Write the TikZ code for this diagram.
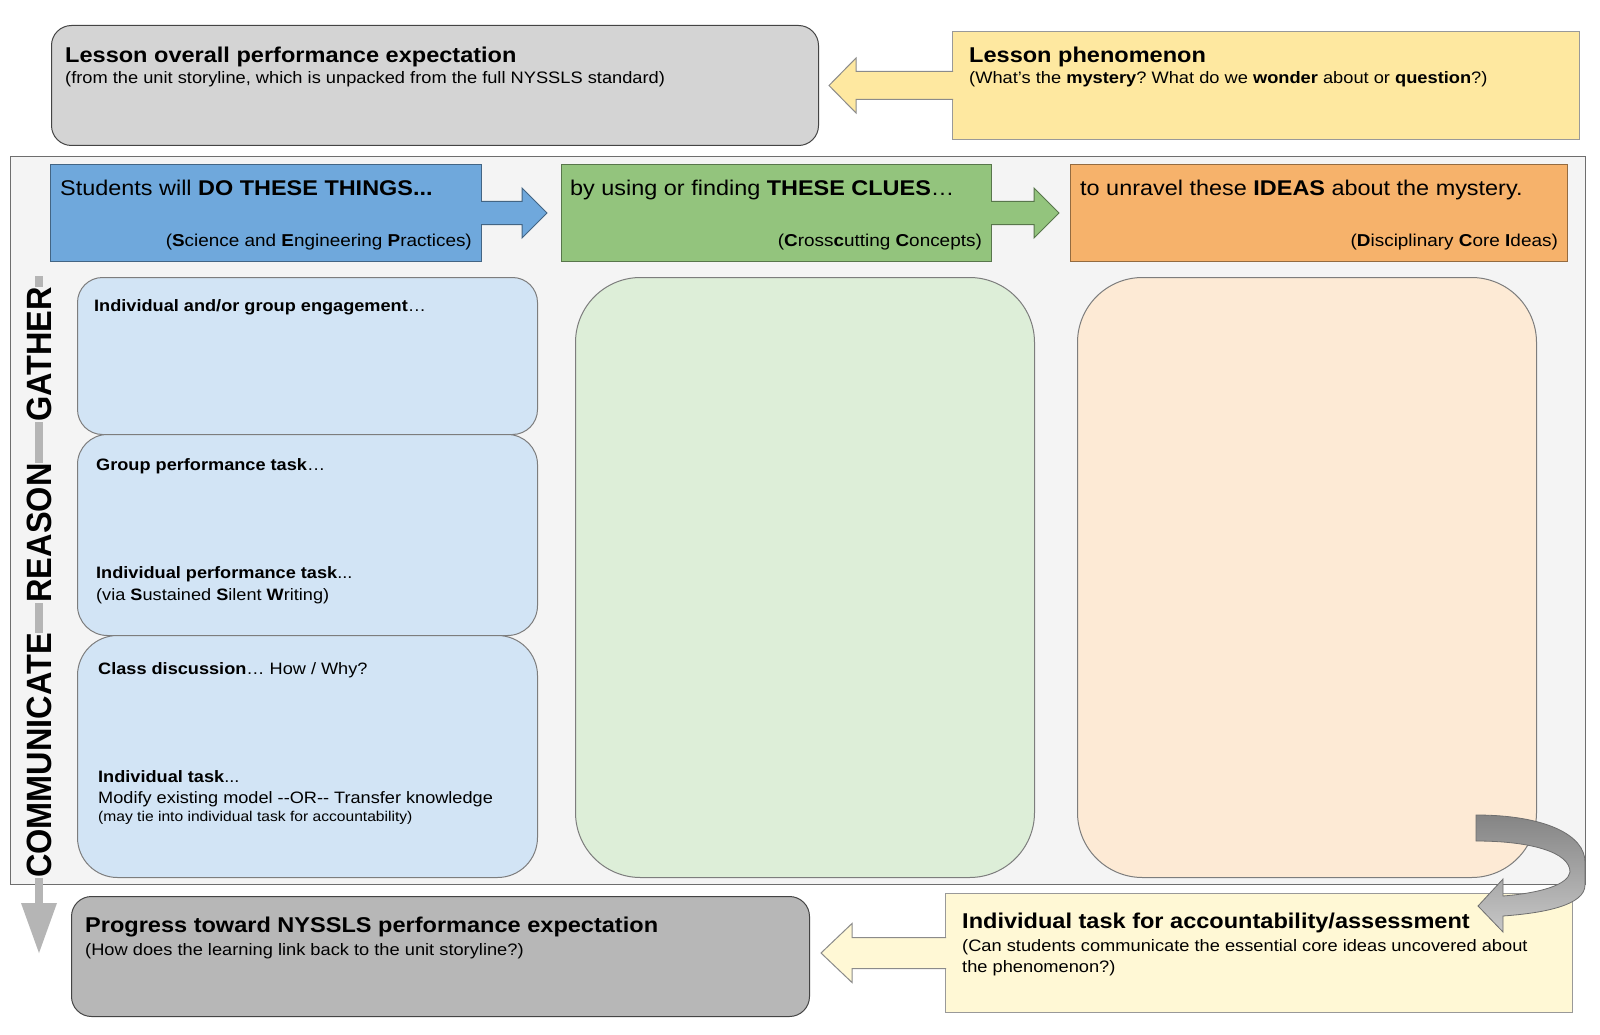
\documentclass[tikz,border=0pt]{standalone}
\usepackage{fontspec}
\usepackage{graphicx}
\setmainfont{Liberation Sans}[FakeStretch=1.1]
\newfontfamily\vfont{Liberation Sans}
\usetikzlibrary{calc}
\frenchspacing
\definecolor{topgray}{HTML}{D4D4D4}
\definecolor{botgray}{HTML}{B7B7B7}
\definecolor{framebg}{HTML}{F4F4F4}
\definecolor{phenyellow}{HTML}{FEE8A0}
\definecolor{accyellow}{HTML}{FFF8D5}
\definecolor{hblue}{HTML}{6FA8DC}
\definecolor{hgreen}{HTML}{93C47D}
\definecolor{horange}{HTML}{F6B26B}
\definecolor{cblue}{HTML}{D2E4F5}
\definecolor{cgreen}{HTML}{DDEED8}
\definecolor{corange}{HTML}{FDEAD5}
\definecolor{vgray}{HTML}{B5B5B5}
\definecolor{edge}{HTML}{6E6E6E}
\definecolor{darkedge}{HTML}{444444}
\begin{document}
\begin{tikzpicture}[x=1pt,y=-1pt,
  box/.style={anchor=north west, inner sep=0pt, line width=1pt},
  txt/.style={anchor=base west, inner sep=0pt},
  rtxt/.style={anchor=base east, inner sep=0pt},
  ttl/.style={txt, font=\fontsize{21.4}{25}\selectfont\bfseries},
  subt/.style={txt, font=\fontsize{16.6}{20}\selectfont},
  hd/.style={txt, font=\fontsize{21.3}{25}\selectfont},
  hsub/.style={rtxt, font=\fontsize{17.2}{20}\selectfont},
  ct/.style={txt, font=\fontsize{16.5}{20}\selectfont},
  sm/.style={txt, font=\fontsize{14.2}{17}\selectfont},
  vt/.style={anchor=base, rotate=90, inner xsep=0pt, inner ysep=1pt, fill=framebg, font=\vfont\fontsize{32.5}{33}\selectfont\bfseries},
  blockarrow/.style={line width=1pt, line join=miter}
]
\fill[white] (0,0) rectangle (1600,1035);
\useasboundingbox (0,0) rectangle (1600,1035);

% top row
\node[box, minimum width=767pt, minimum height=120pt, rounded corners=20pt, fill=topgray, draw=darkedge] (pe) at (51,25) {};
\node[box, minimum width=627pt, minimum height=108pt, fill=phenyellow, draw=edge!70] (phen) at (952,31) {};
\node[ttl] (peT) at (65,62.5) {Lesson overall performance expectation};
\node[subt] (peS) at (65,84) {(from the unit storyline, which is unpacked from the full NYSSLS standard)};
\node[ttl] (phT) at (969,62.5) {Lesson phenomenon};
\node[subt] (phS) at (969,84) {(What’s the \textbf{mystery}? What do we \textbf{wonder} about or \textbf{question}?)};
\filldraw[blockarrow, fill=phenyellow, draw=edge!80]
  ($(phen.west)+(1,-14)$) -- ($(phen.west)+(-96,-14)$) -- ($(phen.west)+(-96,-27.5)$) -- ($(phen.west)+(-123,0)$)
  -- ($(phen.west)+(-96,27.5)$) -- ($(phen.west)+(-96,14)$) -- ($(phen.west)+(1,14)$);

% frame
\node[box, minimum width=1575pt, minimum height=728pt, fill=framebg, draw=edge] (frame) at (10,156) {};

% header boxes
\node[box, minimum width=431pt, minimum height=97pt, fill=hblue, draw=hblue!60!black] (sep) at (50,164) {};
\node[box, minimum width=430pt, minimum height=97pt, fill=hgreen, draw=hgreen!60!black] (ccc) at (561,164) {};
\node[box, minimum width=497pt, minimum height=97pt, fill=horange, draw=horange!60!black] (dci) at (1070,164) {};
\filldraw[blockarrow, fill=hblue, draw=hblue!60!black]
  ($(sep.east)+(-1,-11.5)$) -- ($(sep.east)+(40,-11.5)$) -- ($(sep.east)+(40,-25)$) -- ($(sep.east)+(65,0)$)
  -- ($(sep.east)+(40,25)$) -- ($(sep.east)+(40,11.5)$) -- ($(sep.east)+(-1,11.5)$);
\filldraw[blockarrow, fill=hgreen, draw=hgreen!60!black]
  ($(ccc.east)+(-1,-11.5)$) -- ($(ccc.east)+(42,-11.5)$) -- ($(ccc.east)+(42,-25)$) -- ($(ccc.east)+(67,0)$)
  -- ($(ccc.east)+(42,25)$) -- ($(ccc.east)+(42,11.5)$) -- ($(ccc.east)+(-1,11.5)$);
\node[hd] (sepT) at (60,196) {Students will \textbf{DO THESE THINGS...}};
\node[hsub] (sepS) at (472,246) {(\textbf{S}cience and \textbf{E}ngineering \textbf{P}ractices)};
\node[hd] (cccT) at (570,196) {by using or finding \textbf{THESE CLUES}…};
\node[hsub] (cccS) at (982,246) {(\textbf{C}ross\textbf{c}utting \textbf{C}oncepts)};
\node[hd] (dciT) at (1080,196) {to unravel these \textbf{IDEAS} about the mystery.};
\node[hsub] (dciS) at (1558,246) {(\textbf{D}isciplinary \textbf{C}ore \textbf{I}deas)};

% vertical progression arrow
\coordinate (vtop) at (39,276);
\coordinate (vtip) at (39,953);
\draw[line width=8.5pt, vgray] (vtop) -- ($(vtip)+(0,-48)$);
\fill[vgray] ($(vtip)+(-18,-50)$) -- ($(vtip)+(18,-50)$) -- (vtip) -- cycle;
\node[vt] (vG) at (51.5,354.5) {\scalebox{1}[1.08]{GATHER}};
\node[vt] (vR) at (51.5,533) {\scalebox{1}[1.08]{REASON}};
\node[vt] (vC) at (51.5,755.5) {\scalebox{1}[1.08]{COMMUNICATE}};

% content boxes
\node[box, minimum width=460pt, minimum height=157pt, rounded corners=25pt, fill=cblue, draw=edge!90] (c1) at (77,277) {};
\node[box, minimum width=460pt, minimum height=201pt, rounded corners=30pt, fill=cblue, draw=edge!90] (c2) at (77,434) {};
\node[box, minimum width=460pt, minimum height=242pt, rounded corners=40pt, fill=cblue, draw=edge!90] (c3) at (77,635) {};
\node[box, minimum width=459pt, minimum height=600pt, rounded corners=65pt, fill=cgreen, draw=edge!90] (gc) at (575,277) {};
\node[box, minimum width=459pt, minimum height=600pt, rounded corners=65pt, fill=corange, draw=edge!90] (oc) at (1077,277) {};

\node[ct] (t1) at (94,311) {\textbf{Individual and/or group engagement}…};
\node[ct] (t2) at (96,470) {\textbf{Group performance task}…};
\node[ct] (t3) at (96,578) {\textbf{Individual performance task}...};
\node[ct] (t4) at (96,600) {(via \textbf{S}ustained \textbf{S}ilent \textbf{W}riting)};
\node[ct] (t5) at (98,674) {\textbf{Class discussion}… How / Why?};
\node[ct] (t6) at (98,782) {\textbf{Individual task}...};
\node[ct] (t7) at (98,803) {Modify existing model -{}-OR-{}- Transfer knowledge};
\node[sm] (t8) at (98,821) {(may tie into individual task for accountability)};

% bottom row
\node[box, minimum width=738pt, minimum height=120pt, rounded corners=20pt, fill=botgray, draw=darkedge] (pb) at (71,896) {};
\node[box, minimum width=627pt, minimum height=119pt, fill=accyellow, draw=edge!70] (acc) at (945,893) {};
\filldraw[blockarrow, fill=accyellow, draw=edge!80]
  ($(acc.west)+(1,-15.5)$) -- ($(acc.west)+(-93,-15.5)$) -- ($(acc.west)+(-93,-29.5)$) -- ($(acc.west)+(-124,0)$)
  -- ($(acc.west)+(-93,29.5)$) -- ($(acc.west)+(-93,15.5)$) -- ($(acc.west)+(1,15.5)$);
\node[ttl] (pbT) at (85,932) {Progress toward NYSSLS performance expectation};
\node[subt] (pbS) at (85,955) {(How does the learning link back to the unit storyline?)};
\node[ttl] (accT) at (962,928) {Individual task for accountability/assessment};
\node[subt] (accS1) at (962,951) {(Can students communicate the essential core ideas uncovered about};
\node[subt] (accS2) at (962,972) {the phenomenon?)};

% curved arrow from the ideas panel to the accountability task
\path[top color=black!48, bottom color=black!22, draw=edge, line width=0.8pt, line join=miter]
  (1476,815) .. controls (1545,815) and (1585,835) .. (1585,862)
  -- (1585,885) .. controls (1585,905) and (1545,913) .. (1503,916)
  -- (1503,932) -- (1478,906) -- (1503,879) -- (1503,896)
  .. controls (1540,893) and (1568,885) .. (1570,872)
  .. controls (1570,852) and (1530,841) .. (1476,841) -- cycle;
\end{tikzpicture}
\end{document}
